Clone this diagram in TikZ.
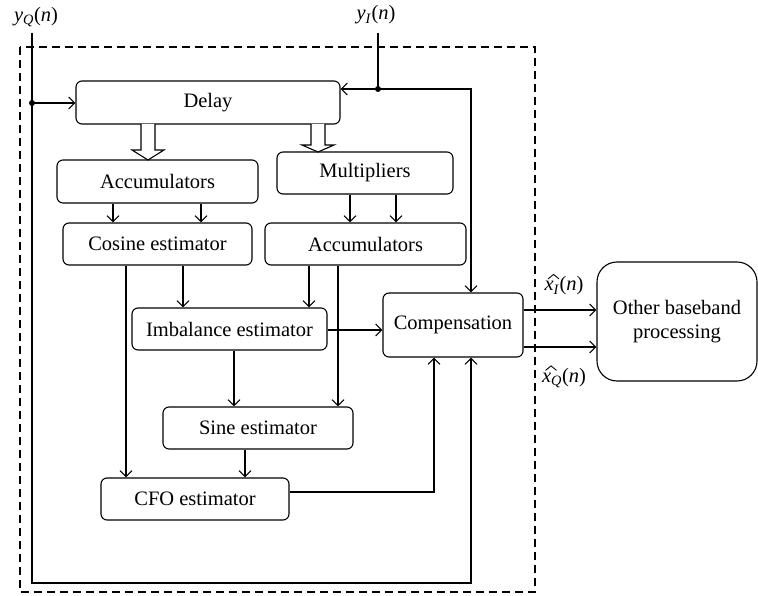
\documentclass[tikz,border=0pt]{standalone}
\usepackage{fontspec}
\setmainfont{Liberation Serif}
\usetikzlibrary{arrows.meta,calc}
\begin{document}
\begin{tikzpicture}[x=1pt,y=-1pt,
  font=\fontsize{20.5}{24}\selectfont,
  blk/.style={draw,line width=1.1pt,rounded corners=6pt,inner sep=0pt,align=center},
  ln/.style={line width=1.1pt},
  arr/.style={ln,-{Straight Barb[length=6pt,width=12pt]}},
  hatln/.style={line width=0.9pt,line join=miter},
  hollow/.style={draw,fill=white,line width=1.1pt,line join=miter},
  dotc/.style={circle,fill,inner sep=0pt,minimum size=6pt}]
\useasboundingbox (0,0) rectangle (758,596);
% dashed boundary
\draw[ln,dash pattern=on 8pt off 5pt] (20,47) rectangle (535,592);
% blocks
\node[blk,minimum width=264pt,minimum height=43pt] (Delay) at (208,102.5) {Delay};
\node[blk,minimum width=201pt,minimum height=43pt] (AccL) at (157.5,181.5) {Accumulators};
\node[blk,minimum width=176pt,minimum height=42pt] (Mult) at (365,173) {Multipliers};
\node[blk,minimum width=189pt,minimum height=42pt] (Cos) at (157.5,244) {Cosine estimator};
\node[blk,minimum width=201pt,minimum height=42pt] (AccR) at (365.5,244) {Accumulators};
\node[blk,minimum width=195pt,minimum height=42pt] (Imb) at (229.5,329) {Imbalance estimator};
\node[blk,minimum width=140pt,minimum height=64pt] (Comp) at (453,325) {Compensation};
\node[blk,minimum width=190pt,minimum height=42pt] (Sine) at (258,428) {Sine estimator};
\node[blk,minimum width=188pt,minimum height=42pt] (CFO) at (195,499) {CFO estimator};
\node[blk,rounded corners=20pt,minimum width=160pt,minimum height=119pt] (Other) at (677,321.5) {Other baseband\\processing};
% input labels
\node (yQ) at (36,17) {\textit{y}\textsubscript{\textit{Q}}(\textit{n})};
\node (yI) at (376,15) {\textit{y}\textsubscript{\textit{I}}(\textit{n})};
\node (xI) at (564,286) {\textit{x}\textsubscript{\textit{I}}(\textit{n})};
\node (xQ) at (564,378) {\textit{x}\textsubscript{\textit{Q}}(\textit{n})};
\draw[hatln] ($(xI.base west)+(7,-12)$) -- ++(5.5,-4.5) -- ++(5.5,4.5);
\draw[hatln] ($(xQ.base west)+(7,-12)$) -- ++(5.5,-4.5) -- ++(5.5,4.5);
% coordinates
\coordinate (qtop) at (32,33);
\node[dotc] (dQ) at (32,103) {};
\coordinate (qbl) at (32,583);
\coordinate (qbr) at (471,583);
\coordinate (itop) at (378,33);
\node[dotc] (dI) at (378,89) {};
\coordinate (iright) at (471,89);
\coordinate (cfoc) at (434,492);
% y_Q path
\draw[ln] (qtop) -- (dQ.center);
\draw[arr] (dQ.center) -- (Delay.west |- dQ.center);
\draw[arr] (dQ.center) -- (qbl) -- (qbr) -- (qbr |- Comp.south);
% y_I path
\draw[ln] (itop) -- (dI.center);
\draw[arr] (dI.center) -- (Delay.east |- dI.center);
\draw[arr] (dI.center) -- (iright) -- (iright |- Comp.north);
% hollow arrows
\draw[hollow] (141,124) -- (141,150) -- (132,150) -- (148,160) -- (164,150) -- (155,150) -- (155,124);
\draw[hollow] (311,124) -- (311,145) -- (302,145) -- (318,152) -- (334,145) -- (325,145) -- (325,124);
% internal arrows
\draw[arr] (113,0 |- AccL.south) -- (113,0 |- Cos.north);
\draw[arr] (201,0 |- AccL.south) -- (201,0 |- Cos.north);
\draw[arr] (350,0 |- Mult.south) -- (350,0 |- AccR.north);
\draw[arr] (396,0 |- Mult.south) -- (396,0 |- AccR.north);
\draw[arr] (183,0 |- Cos.south) -- (183,0 |- Imb.north);
\draw[arr] (309,0 |- AccR.south) -- (309,0 |- Imb.north);
\draw[arr] (126,0 |- Cos.south) -- (126,0 |- CFO.north);
\draw[arr] (338,0 |- AccR.south) -- (338,0 |- Sine.north);
\draw[arr] (234,0 |- Imb.south) -- (234,0 |- Sine.north);
\draw[arr] (245,0 |- Sine.south) -- (245,0 |- CFO.north);
\draw[arr] (Imb.east |- 0,330) -- (Comp.west |- 0,330);
\draw[arr] (CFO.east |- cfoc) -- (cfoc) -- (cfoc |- Comp.south);
% outputs
\draw[arr] (Comp.east |- 0,310) -- (Other.west |- 0,310);
\draw[arr] (Comp.east |- 0,347) -- (Other.west |- 0,347);
\end{tikzpicture}
\end{document}
